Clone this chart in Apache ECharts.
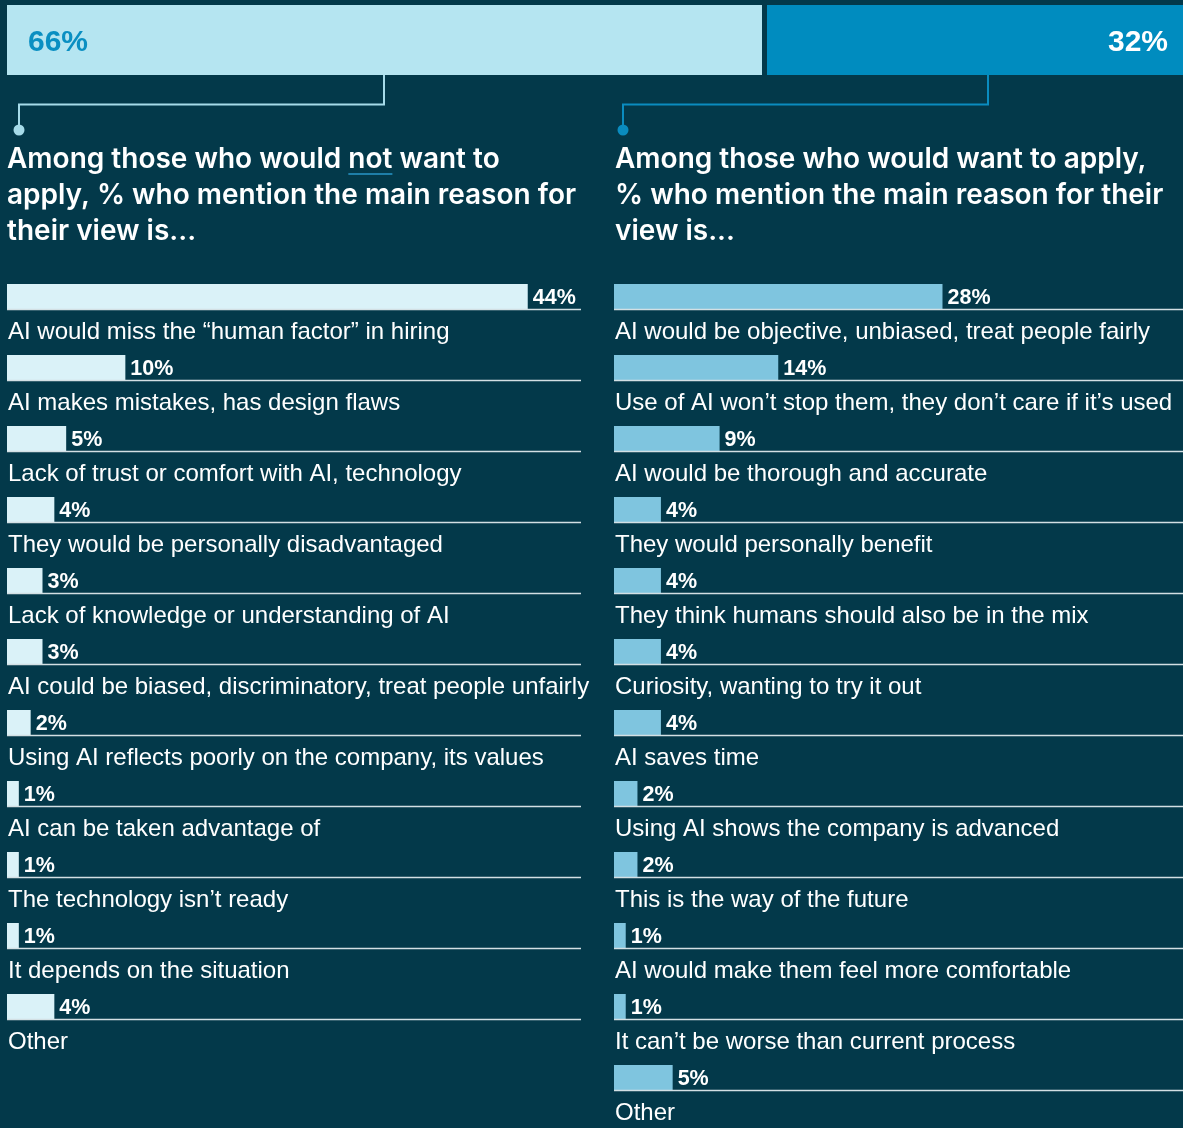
<!DOCTYPE html>
<html style="height: 100%">
<head>
<meta charset="utf-8">
<title>AI in hiring - reasons</title>
<script src="https://cdn.jsdelivr.net/npm/echarts@6/dist/echarts.min.js"></script>
</head>
<body style="height: 100%; margin: 0; background: #03394a">
<div id="container" style="width: 1183px; height: 1128px"></div>
<script type="text/javascript">
// top split: would not apply / would apply
var splitNot = 66;
var splitWant = 32;

// reasons among those who would NOT want to apply
var notReasons = [
    'AI would miss the \u201chuman factor\u201d in hiring',
    'AI makes mistakes, has design flaws',
    'Lack of trust or comfort with AI, technology',
    'They would be personally disadvantaged',
    'Lack of knowledge or understanding of AI',
    'AI could be biased, discriminatory, treat people unfairly',
    'Using AI reflects poorly on the company, its values',
    'AI can be taken advantage of',
    'The technology isn\u2019t ready',
    'It depends on the situation',
    'Other'
];
var notValues = [44, 10, 5, 4, 3, 3, 2, 1, 1, 1, 4];

// reasons among those who WOULD want to apply
var wantReasons = [
    'AI would be objective, unbiased, treat people fairly',
    'Use of AI won\u2019t stop them, they don\u2019t care if it\u2019s used',
    'AI would be thorough and accurate',
    'They would personally benefit',
    'They think humans should also be in the mix',
    'Curiosity, wanting to try it out',
    'AI saves time',
    'Using AI shows the company is advanced',
    'This is the way of the future',
    'AI would make them feel more comfortable',
    'It can\u2019t be worse than current process',
    'Other'
];
var wantValues = [28, 14, 9, 4, 4, 4, 4, 2, 2, 1, 1, 5];

var FONT = '"Liberation Sans", Arial, Helvetica, sans-serif';
var TITLE_FONT = '600 28px Inter, "Liberation Sans", Arial, sans-serif';
var myChart = echarts.init(document.getElementById('container'));

// width of the heading text before "not", for the underline
var ctx = document.createElement('canvas').getContext('2d');
ctx.font = TITLE_FONT;
var notStart = 7 + ctx.measureText('Among those who would ').width;
var notEnd = notStart + ctx.measureText('not').width;

function makeRender(names, color) {
    return function (params, api) {
        var idx = api.value(1);
        var start = api.coord([0, idx]);
        var end = api.coord([api.value(0), idx]);
        var band = api.size([0, 1])[1];
        var top = start[1] - band / 2 + 8;
        var cs = params.coordSys;
        return {
            type: 'group',
            children: [
                { type: 'rect', shape: { x: start[0], y: top, width: end[0] - start[0], height: 25 },
                  style: { fill: color } },
                { type: 'line', shape: { x1: cs.x, y1: top + 25.5, x2: cs.x + cs.width, y2: top + 25.5 },
                  style: { stroke: '#d3e0e4', lineWidth: 1.5 } },
                { type: 'text', x: end[0] + 5, y: top + 14,
                  style: { text: api.value(0) + '%', fill: '#ffffff', font: 'bold 21.5px ' + FONT, verticalAlign: 'middle' } },
                { type: 'text', x: cs.x + 1, y: top + 48,
                  style: { text: names[idx], fill: '#ffffff', font: '24px ' + FONT, verticalAlign: 'middle' } }
            ]
        };
    };
}

function idxAxis(names, gi) {
    return { type: 'category', gridIndex: gi, inverse: true, data: names, show: false };
}
function valAxis(gi, max) {
    return { type: 'value', gridIndex: gi, min: 0, max: max, show: false };
}

var option = {
    backgroundColor: '#03394a',
    animation: false,
    grid: [
        { left: 7, top: 5, width: 755, height: 70 },
        { left: 767, top: 5, width: 416, height: 70 },
        { left: 7, top: 276, width: 574, height: 781 },
        { left: 614, top: 276, width: 569, height: 858 }
    ],
    xAxis: [valAxis(0, splitNot), valAxis(1, splitWant), valAxis(2, 48.5), valAxis(3, 48.5)],
    yAxis: [idxAxis(['all'], 0), idxAxis(['all'], 1), idxAxis(notReasons, 2), idxAxis(wantReasons, 3)],
    series: [
        {
            type: 'bar', xAxisIndex: 0, yAxisIndex: 0, barWidth: 70, data: [splitNot],
            itemStyle: { color: '#b5e5f1' },
            label: { show: true, position: 'insideLeft', distance: 21, offset: [0, 3], formatter: '{c}%',
                     color: '#0a8fc2', fontFamily: FONT, fontWeight: 'bold', fontSize: 30 }
        },
        {
            type: 'bar', xAxisIndex: 1, yAxisIndex: 1, barWidth: 70, data: [splitWant],
            itemStyle: { color: '#008cbf' },
            label: { show: true, position: 'insideRight', distance: 15, offset: [0, 3], formatter: '{c}%',
                     color: '#ffffff', fontFamily: FONT, fontWeight: 'bold', fontSize: 30 }
        },
        {
            type: 'custom', xAxisIndex: 2, yAxisIndex: 2,
            renderItem: makeRender(notReasons, '#daf2f8'),
            data: notValues.map(function (v, i) { return [v, i]; })
        },
        {
            type: 'custom', xAxisIndex: 3, yAxisIndex: 3,
            renderItem: makeRender(wantReasons, '#7fc5df'),
            data: wantValues.map(function (v, i) { return [v, i]; })
        }
    ],
    graphic: [
        // connectors from the top bar to the headings
        { type: 'polyline', shape: { points: [[384, 75], [384, 104.5], [19, 104.5], [19, 128]] },
          style: { stroke: '#a6dbe9', lineWidth: 2, fill: null } },
        { type: 'circle', shape: { cx: 19, cy: 130, r: 5.5 }, style: { fill: '#a6dbe9' } },
        { type: 'polyline', shape: { points: [[988, 75], [988, 104.5], [623, 104.5], [623, 128]] },
          style: { stroke: '#0a8cbf', lineWidth: 2, fill: null } },
        { type: 'circle', shape: { cx: 623, cy: 130, r: 5.5 }, style: { fill: '#0a8cbf' } },
        // headings
        { type: 'text', x: 7, y: 142,
          style: { text: 'Among those who would not want to\napply, % who mention the main reason for\ntheir view is...',
                   fill: '#ffffff', font: TITLE_FONT, lineHeight: 36, verticalAlign: 'top' } },
        { type: 'line', shape: { x1: notStart, y1: 174, x2: notEnd, y2: 174 },
          style: { stroke: '#1e7ea8', lineWidth: 2 } },
        { type: 'text', x: 615, y: 142,
          style: { text: 'Among those who would want to apply,\n% who mention the main reason for their\nview is...',
                   fill: '#ffffff', font: TITLE_FONT, lineHeight: 36, verticalAlign: 'top' } }
    ]
};

myChart.setOption(option);
</script>
</body>
</html>
